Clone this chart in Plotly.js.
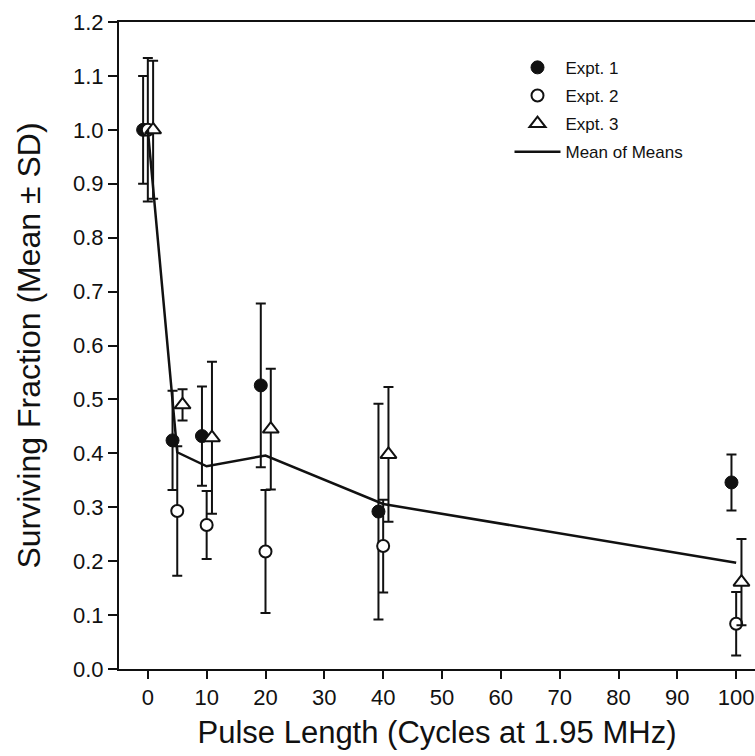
<!DOCTYPE html>
<html>
<head>
<meta charset="utf-8">
<script src="https://cdn.plot.ly/plotly-3.0.1.min.js"></script>
<style>html,body{margin:0;padding:0;background:#fff;overflow:hidden}</style>
</head>
<body>
<div id="chart" style="width:755px;height:756px"></div>
<script>
// Pulse length (cycles at 1.95 MHz)
const pulseLength = [0, 5, 10, 20, 40, 100];

// Experiment 1 (filled circles)
const expt1Mean = [1.0, 0.424, 0.432, 0.526, 0.292, 0.346];
const expt1SD   = [0.100, 0.092, 0.092, 0.152, 0.200, 0.052];

// Experiment 2 (open circles)
const expt2Mean = [1.0, 0.293, 0.267, 0.218, 0.228, 0.084];
const expt2SD   = [0.133, 0.120, 0.063, 0.114, 0.086, 0.059];

// Experiment 3 (open triangles)
const expt3Mean = [1.0, 0.490, 0.429, 0.445, 0.398, 0.161];
const expt3SD   = [0.128, 0.029, 0.141, 0.112, 0.125, 0.080];

// Mean of means
const meanOfMeans = [1.0, 0.402, 0.376, 0.396, 0.306, 0.197];

const xTicks = [0, 10, 20, 30, 40, 50, 60, 70, 80, 90, 100];
const yTicks = [0, 0.1, 0.2, 0.3, 0.4, 0.5, 0.6, 0.7, 0.8, 0.9, 1.0, 1.1, 1.2];

// small horizontal jitter so overlapping experiments stay visible
const jitter = { e1: -0.8, e2: 0, e3: 0.9 };

const FONT = "Arial, 'Liberation Sans', Helvetica, sans-serif";
const INK = '#111';

function errBar(sd) {
  return { type: 'data', array: sd, visible: true, color: INK, thickness: 2, width: 5 };
}

const traces = [
  {
    name: 'Expt. 1', legendgroup: 'g1', type: 'scatter', mode: 'markers',
    x: pulseLength.map(p => p + jitter.e1), y: expt1Mean, error_y: errBar(expt1SD),
    marker: { symbol: 'circle', size: 13, color: INK, line: { color: INK, width: 1 } }
  },
  {
    name: 'Expt. 2', legendgroup: 'g2', type: 'scatter', mode: 'markers',
    x: pulseLength.map(p => p + jitter.e2), y: expt2Mean, error_y: errBar(expt2SD),
    marker: { symbol: 'circle', size: 12, color: '#fff', line: { color: INK, width: 2 } }
  },
  {
    name: 'Expt. 3', legendgroup: 'g3', type: 'scatter', mode: 'markers',
    x: pulseLength.map(p => p + jitter.e3), y: expt3Mean, error_y: errBar(expt3SD),
    marker: { symbol: 'triangle-up', size: 14, color: '#fff', line: { color: INK, width: 2 } }
  },
  {
    name: 'Mean of Means', legendgroup: 'g4', type: 'scatter', mode: 'lines',
    x: pulseLength, y: meanOfMeans,
    line: { color: INK, width: 2.5 }
  }
];

const layout = {
  width: 755, height: 756,
  margin: { l: 119, r: 0, t: 22, b: 87 },
  paper_bgcolor: '#fff', plot_bgcolor: '#fff',
  font: { family: FONT, color: INK },
  showlegend: true,
  legend: {
    x: 0.614, y: 0.957, xanchor: 'left', yanchor: 'top',
    bgcolor: 'rgba(0,0,0,0)', borderwidth: 0,
    font: { family: FONT, size: 17, color: INK },
    tracegroupgap: 3, itemwidth: 46
  },
  xaxis: {
    range: [-4.9, 103.2],
    tickvals: xTicks, ticktext: xTicks.map(String),
    ticks: 'outside', ticklen: 8, tickwidth: 2, tickcolor: INK,
    showline: true, linewidth: 2, linecolor: INK, mirror: true,
    showgrid: false, zeroline: false,
    tickfont: { family: FONT, size: 22, color: INK },
    title: { text: 'Pulse Length (Cycles at 1.95 MHz)', font: { family: FONT, size: 31, color: INK }, standoff: 12 }
  },
  yaxis: {
    range: [0, 1.2],
    tickvals: yTicks, ticktext: yTicks.map(v => v.toFixed(1)),
    ticks: 'outside', ticklen: 9, tickwidth: 2, tickcolor: INK,
    showline: true, linewidth: 2, linecolor: INK, mirror: false,
    showgrid: false, zeroline: false,
    tickfont: { family: FONT, size: 22, color: INK },
    title: { text: 'Surviving Fraction (Mean ± SD)', font: { family: FONT, size: 32, color: INK }, standoff: 23 }
  }
};

Plotly.newPlot('chart', traces, layout, { staticPlot: true, displayModeBar: false });
</script>
</body>
</html>
